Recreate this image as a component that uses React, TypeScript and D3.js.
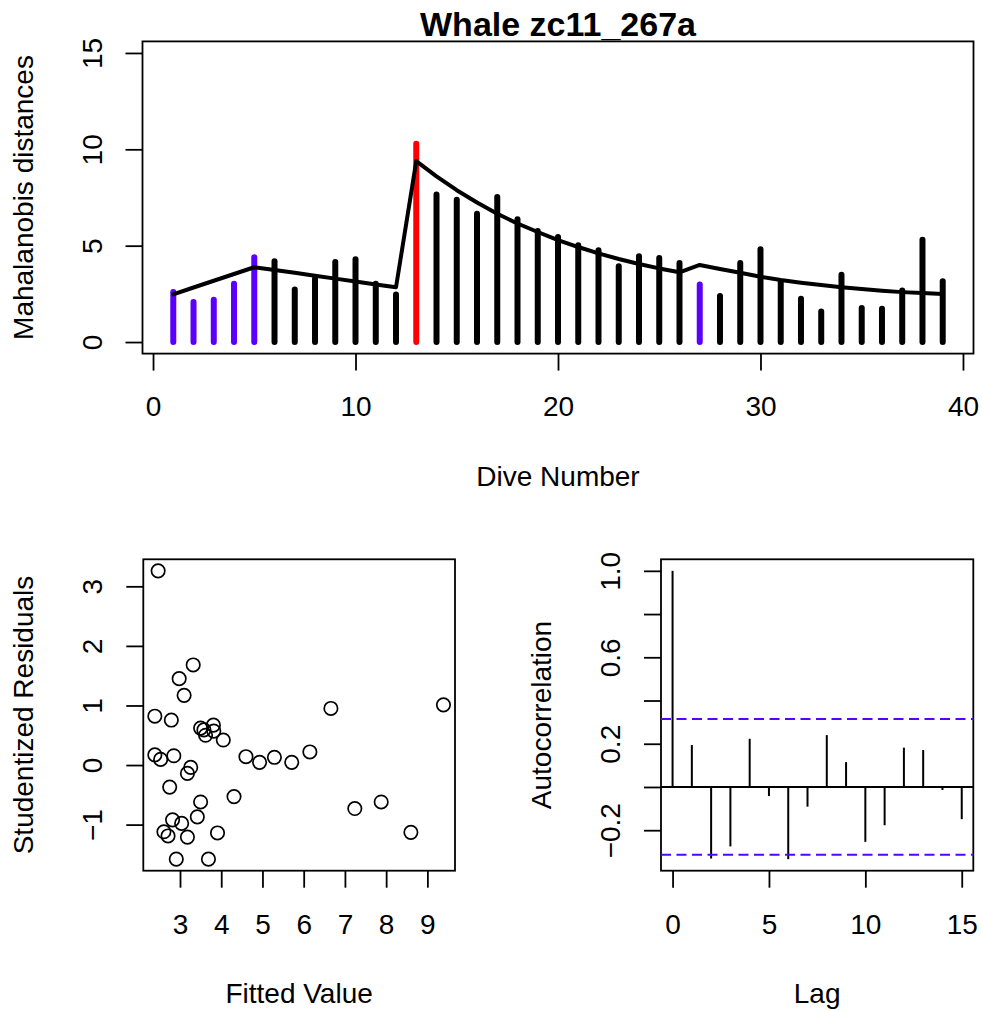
import { useEffect, useRef } from 'react';
import * as d3 from 'd3';

/* ── Data ── */
const MAHAL = [
  2.6, 2.08, 2.2, 3.03, 4.4, 4.19, 2.73, 3.28, 4.15, 4.29, 3.03, 2.47, 10.29,
  7.66, 7.38, 6.66, 7.52, 6.37, 5.76, 5.45, 5.02, 4.76, 3.93, 4.45, 4.36, 4.1,
  2.99, 2.39, 4.1, 4.81, 3.11, 2.25, 1.59, 3.49, 1.76, 1.73, 2.68, 5.31, 3.15,
];
const FITTED_LINE = [
  2.47, 2.83, 3.18, 3.53, 3.88, 3.74, 3.59, 3.44, 3.29, 3.14, 2.99, 2.84, 9.39,
  8.6, 7.88, 7.24, 6.66, 6.15, 5.71, 5.29, 4.93, 4.6, 4.31, 4.05, 3.82, 3.62,
  4.0, 3.79, 3.6, 3.39, 3.22, 3.08, 2.96, 2.84, 2.75, 2.66, 2.59, 2.54, 2.49,
];
const FLAGGED_DIVES = [1, 2, 3, 4, 5, 27];
const CHANGE_DIVES = [13];

const FIT_X = [
  2.47, 2.39, 2.79, 2.98, 3.32, 3.1, 2.39, 2.53, 2.85, 3.26, 3.18, 2.75, 3.5,
  3.58, 3.62, 3.81, 3.82, 4.05, 3.5, 3.42, 2.82, 3.04, 2.61, 2.71, 3.18, 3.91,
  2.91, 3.69, 4.31, 4.6, 4.93, 5.29, 5.71, 6.15, 6.66, 7.24, 7.88, 8.6, 9.39,
];
const STUD_RESID = [
  3.26, 0.82, 0.755, 1.45, 1.68, 1.17, 0.17, 0.095, 0.156, -0.04, -0.14, -0.37,
  0.62, 0.59, 0.5, 0.67, 0.57, 0.42, -0.62, -0.87, -0.92, -0.98, -1.12, -1.19,
  -1.21, -1.14, -1.58, -1.58, -0.53, 0.14, 0.045, 0.13, 0.045, 0.22, 0.95,
  -0.73, -0.62, -1.13, 1.01,
];

const ACF = [
  1.0, 0.194, -0.331, -0.275, 0.223, -0.042, -0.334, -0.091, 0.24, 0.115,
  -0.254, -0.177, 0.182, 0.171, -0.014, -0.149,
];
const ACF_CI = 0.314;

const TOP_X_TICKS = [0, 10, 20, 30, 40];
const TOP_Y_TICKS = [0, 5, 10, 15];
const RES_X_TICKS = [3, 4, 5, 6, 7, 8, 9];
const RES_Y_TICKS = [-1, 0, 1, 2, 3];
const ACF_X_TICKS = [0, 5, 10, 15];
const ACF_Y_TICKS = [-0.2, 0, 0.2, 0.4, 0.6, 0.8, 1.0];
const ACF_Y_LABELED = [-0.2, 0.2, 0.6, 1.0];

const FONT = '"Liberation Sans", Arial, Helvetica, sans-serif';
const PURPLE = '#5a00ff';
const FS = 28;
const TICK = 17;

// R-style 4% range extension
const pad = (lo: number, hi: number): [number, number] => {
  const e = (hi - lo) * 0.04;
  return [lo - e, hi + e];
};

type Box = { left: number; right: number; top: number; bottom: number };

export default function App() {
  const svgRef = useRef<SVGSVGElement>(null);

  useEffect(() => {
    const svg = d3.select(svgRef.current);
    svg.selectAll('*').remove();

    const drawFrame = (
      box: Box,
      x: d3.ScaleLinear<number, number>,
      y: d3.ScaleLinear<number, number>,
      xTicks: number[],
      yTicks: number[],
      xLabel: string,
      yLabel: string,
      yFmt: (v: number) => string = d3.format(''),
    ) => {
      const g = svg.append('g');

      // x axis
      const gx = g.append('g')
        .attr('transform', `translate(0,${box.bottom})`)
        .call(d3.axisBottom(x).tickValues(xTicks).tickSize(TICK).tickPadding(26).tickFormat(d3.format('') as any));
      gx.select('.domain').remove();
      gx.selectAll('line').attr('stroke', '#000').attr('stroke-width', 1.8);
      gx.selectAll('text').attr('font-size', FS).attr('font-family', FONT).attr('fill', '#000');

      // y axis, labels rotated like R's las=0
      const gy = g.append('g')
        .attr('transform', `translate(${box.left},0)`)
        .call(d3.axisLeft(y).tickValues(yTicks).tickSize(TICK).tickFormat(yFmt as any));
      gy.select('.domain').remove();
      gy.selectAll('line').attr('stroke', '#000').attr('stroke-width', 1.8);
      gy.selectAll('text')
        .attr('x', null).attr('dy', null)
        .attr('text-anchor', 'middle')
        .attr('transform', 'translate(-41,0) rotate(-90)')
        .attr('font-size', FS).attr('font-family', FONT).attr('fill', '#000');

      // frame
      g.append('rect')
        .attr('x', box.left).attr('y', box.top)
        .attr('width', box.right - box.left).attr('height', box.bottom - box.top)
        .attr('fill', 'none').attr('stroke', '#000').attr('stroke-width', 1.8);

      // axis titles
      g.append('text')
        .attr('x', (box.left + box.right) / 2).attr('y', box.bottom + 132)
        .attr('text-anchor', 'middle').attr('font-size', FS).attr('font-family', FONT)
        .text(xLabel);
      g.append('text')
        .attr('transform', `translate(${box.left - 110},${(box.top + box.bottom) / 2}) rotate(-90)`)
        .attr('text-anchor', 'middle').attr('font-size', FS).attr('font-family', FONT)
        .text(yLabel);
      return g;
    };

    // ── Top: Mahalanobis distances by dive ──
    const top: Box = { left: 142.5, right: 973.5, top: 41.4, bottom: 353.6 };
    const x1 = d3.scaleLinear().domain(pad(1, MAHAL.length)).range([top.left, top.right]);
    const y1 = d3.scaleLinear().domain(pad(0, 15)).range([top.bottom, top.top]);
    const g1 = drawFrame(top, x1, y1, TOP_X_TICKS, TOP_Y_TICKS, 'Dive Number', 'Mahalanobis distances');

    const barColor = (dive: number) =>
      CHANGE_DIVES.includes(dive) ? '#ff0000' : FLAGGED_DIVES.includes(dive) ? PURPLE : '#000';

    g1.append('g').selectAll('line')
      .data(MAHAL)
      .join('line')
      .attr('x1', (_, i) => x1(i + 1)).attr('x2', (_, i) => x1(i + 1))
      .attr('y1', y1(0)).attr('y2', d => y1(d))
      .attr('stroke', (_, i) => barColor(i + 1))
      .attr('stroke-width', 6)
      .attr('stroke-linecap', 'round');

    const line = d3.line<number>().x((_, i) => x1(i + 1)).y(d => y1(d));
    g1.append('path')
      .attr('d', line(FITTED_LINE))
      .attr('fill', 'none').attr('stroke', '#000').attr('stroke-width', 4)
      .attr('stroke-linejoin', 'round').attr('stroke-linecap', 'round');

    svg.append('text')
      .attr('x', (top.left + top.right) / 2).attr('y', 36)
      .attr('text-anchor', 'middle').attr('font-size', 34).attr('font-weight', 'bold')
      .attr('font-family', FONT)
      .text('Whale zc11_267a');

    // ── Bottom left: residuals vs fitted ──
    const res: Box = { left: 143.3, right: 455, top: 559.3, bottom: 870.7 };
    const fx = d3.extent(FIT_X) as [number, number];
    const ry = d3.extent(STUD_RESID) as [number, number];
    const x2 = d3.scaleLinear().domain(pad(fx[0], fx[1])).range([res.left, res.right]);
    const y2 = d3.scaleLinear().domain(pad(ry[0], ry[1])).range([res.bottom, res.top]);
    const g2 = drawFrame(res, x2, y2, RES_X_TICKS, RES_Y_TICKS, 'Fitted Value', 'Studentized Residuals');

    g2.append('g').selectAll('circle')
      .data(FIT_X)
      .join('circle')
      .attr('cx', d => x2(d)).attr('cy', (_, i) => y2(STUD_RESID[i]))
      .attr('r', 6.7)
      .attr('fill', 'none').attr('stroke', '#000').attr('stroke-width', 1.7);

    // ── Bottom right: autocorrelation ──
    const acf: Box = { left: 661, right: 973.3, top: 559.3, bottom: 870.7 };
    const x3 = d3.scaleLinear().domain(pad(0, ACF.length - 1)).range([acf.left, acf.right]);
    const y3 = d3.scaleLinear()
      .domain(pad(Math.min(d3.min(ACF) ?? 0, -ACF_CI), 1))
      .range([acf.bottom, acf.top]);
    const acfFmt = (v: number) =>
      ACF_Y_LABELED.some(l => Math.abs(l - v) < 1e-9) ? d3.format('.1f')(v) : '';
    const g3 = drawFrame(acf, x3, y3, ACF_X_TICKS, ACF_Y_TICKS, 'Lag', 'Autocorrelation', acfFmt);

    g3.append('line')
      .attr('x1', acf.left).attr('x2', acf.right)
      .attr('y1', y3(0)).attr('y2', y3(0))
      .attr('stroke', '#000').attr('stroke-width', 1.8);

    g3.append('g').selectAll('line')
      .data(ACF)
      .join('line')
      .attr('x1', (_, i) => x3(i)).attr('x2', (_, i) => x3(i))
      .attr('y1', y3(0)).attr('y2', d => y3(d))
      .attr('stroke', '#000').attr('stroke-width', 2);

    g3.append('g').selectAll('line')
      .data([ACF_CI, -ACF_CI])
      .join('line')
      .attr('x1', acf.left).attr('x2', acf.right)
      .attr('y1', d => y3(d)).attr('y2', d => y3(d))
      .attr('stroke', PURPLE).attr('stroke-width', 2)
      .attr('stroke-dasharray', '10 5.5');
  }, []);

  return (
    <svg
      ref={svgRef}
      width={982}
      height={1011}
      style={{ position: 'absolute', left: 0, top: 0, background: '#fff', display: 'block' }}
    />
  );
}
